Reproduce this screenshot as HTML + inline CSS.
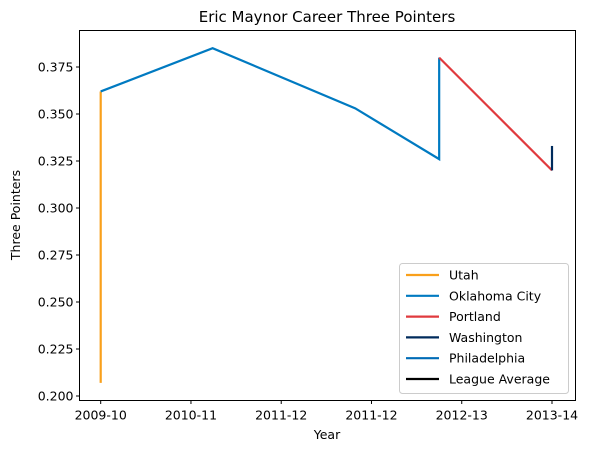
<!DOCTYPE html>
<html><head><meta charset="utf-8"><style>
body{margin:0;background:#fff;font-family:"Liberation Sans","DejaVu Sans",sans-serif}
svg text{font-family:"DejaVu Sans","Liberation Sans",sans-serif;font-size:12.5px;fill:#000}
</style></head><body>
<svg id="c" width="591" height="453"></svg>
<script>
const xTickLabels=["2009-10","2010-11","2011-12","2011-12","2012-13","2013-14"];
const yTicks=[0.200,0.225,0.250,0.275,0.300,0.325,0.350,0.375];
const utahX=[0,0], utahY=[0.207,0.362];
const okcX=[0,1.24,2.82,3.75,3.75], okcY=[0.362,0.385,0.353,0.326,0.380];
const porX=[3.75,5], porY=[0.380,0.320];
const wasX=[5,5], wasY=[0.320,0.333];
const L=79.5,R=575.5,T=30.5,B=400.5;
const xs=v=>100.7+v*90.26;
const ys=v=>396-(v-0.2)/0.025*47;
const s=document.getElementById('c');const NS="http://www.w3.org/2000/svg";
function el(t,a,txt){const e=document.createElementNS(NS,t);for(const k in a)e.setAttribute(k,a[k]);if(txt!=null)e.textContent=txt;s.appendChild(e);return e;}
let e=el('text',{x:327,y:22,'text-anchor':'middle',style:'font-size:15px'},'Eric Maynor Career Three Pointers');

yTicks.forEach(v=>{const y=ys(v);el('line',{x1:L-3.5,x2:L,y1:y,y2:y,stroke:'#000'});
e=el('text',{x:L-6,y:y+4.5,'text-anchor':'end'},v.toFixed(3));});
xTickLabels.forEach((t,i)=>{const x=xs(i);el('line',{x1:x,x2:x,y1:B,y2:B+3.5,stroke:'#000'});
e=el('text',{x:x,y:B+19,'text-anchor':'middle'},t);});
e=el('text',{x:327,y:439,'text-anchor':'middle'},'Year');
e=el('text',{x:20,y:215,'text-anchor':'middle',transform:'rotate(-90 20 215)'},'Three Pointers');
function line(X,Y,c,n){const p=X.map((x,i)=>xs(x)+','+ys(Y[i])).join(' ');const l=el('polyline',{points:p,fill:'none',stroke:c,'stroke-width':2.2});}
line(utahX,utahY,'#F9A01B','line-utah');
line(okcX,okcY,'#007AC1','line-oklahoma-city');
line(porX,porY,'#E03A3E','line-portland');
line(wasX,wasY,'#002B5C','line-washington');
e=el('rect',{x:L,y:T,width:R-L,height:B-T,fill:'none',stroke:'#000','stroke-width':1});
const lg=el('rect',{x:399.5,y:263.5,width:169,height:130,rx:3,fill:'#fff',stroke:'#ccc'});
const names=["Utah","Oklahoma City","Portland","Washington","Philadelphia","League Average"];
const cols=['#F9A01B','#007AC1','#E03A3E','#002B5C','#006BB6','#000'];
names.forEach((n,i)=>{const y=275+i*20.8;el('line',{x1:406,x2:439,y1:y,y2:y,stroke:cols[i],'stroke-width':2.2});
e=el('text',{x:449,y:y+4.5},n);});
</script></body></html>
